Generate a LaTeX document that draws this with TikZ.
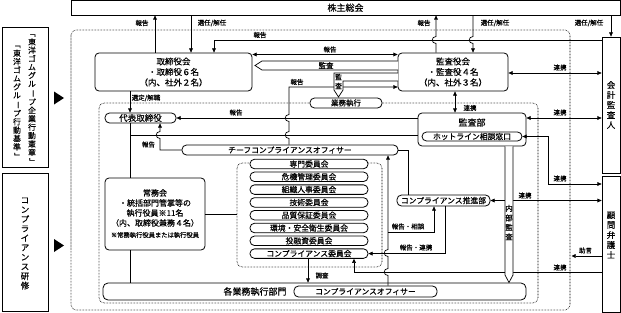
\documentclass[tikz,border=0pt]{standalone}
\usepackage{fontspec}
\usepackage{graphicx}
\setmainfont{Noto Sans CJK JP}[FakeBold=0.35]
\usetikzlibrary{arrows.meta}
\newcommand\myVbar{\rotatebox[origin=c]{-90}{ー}}
\newcommand\myVlb{\rotatebox[origin=c]{-90}{「}}
\newcommand\myVrb{\rotatebox[origin=c]{-90}{」}}
\newcommand\fsz[2]{\fontsize{#1}{#2}\selectfont}
\tikzset{
  ah/.tip={Triangle[length=4.2pt,width=3.8pt]},
  box/.style={draw,line width=0.8pt,rounded corners=4pt,inner sep=0pt,align=center,fill=white},
  pill/.style={draw,line width=0.8pt,rounded corners=4.5pt,inner sep=0pt,fill=white},
  sq/.style={draw,line width=0.8pt,inner sep=0pt,align=center,fill=white},
  ln/.style={line width=0.7pt},
  arr/.style={ln,-ah},
  darr/.style={ln,ah-ah},
  lbl/.style={inner sep=0pt,font=\fsz{6.5}{7}},
  vt/.style={inner sep=0pt,align=center},
  dotbox/.style={line width=0.6pt,dash pattern=on 0.6pt off 0.9pt,rounded corners=5pt},
  hollow/.style={draw,line width=0.7pt,fill=white},
}
\begin{document}
\begin{tikzpicture}[x=1pt,y=-1pt]
\useasboundingbox (0,0) rectangle (621,313);

% dotted frames
\draw[dotbox] (71,30) rectangle (570,310);
\draw[dotbox] (99,103) rectangle (538,303);
\draw[dotbox] (237,163) rectangle (382,267);

% left boxes
\node[sq,minimum width=46pt,minimum height=140pt] (kodo) at (25,97) {};
\node[vt,font=\fsz{7.8}{8.4}] (kodoA) at (32,97.5) {\myVlb\\東\\洋\\ゴ\\ム\\グ\\ル\\\myVbar\\プ\\企\\業\\行\\動\\憲\\章\\\myVrb};
\node[vt,font=\fsz{7.8}{8.4}] (kodoB) at (17,100.5) {\myVlb\\東\\洋\\ゴ\\ム\\グ\\ル\\\myVbar\\プ\\行\\動\\基\\準\\\myVrb};
\node[sq,minimum width=46pt,minimum height=138pt] (kenshu) at (25,242) {};
\node[vt,font=\fsz{8.5}{9.5}] (kenshuT) at (25,243.5) {コ\\ン\\プ\\ラ\\イ\\ア\\ン\\ス\\研\\修};
\fill (54,91.5) -- (64,98) -- (54,104.5) -- cycle;
\fill (54,239) -- (64,245.5) -- (54,252) -- cycle;

% main boxes
\node[sq,minimum width=549pt,minimum height=14.5pt,font=\fsz{9}{10}] (kabu) at (345.5,7.75) {株主総会};
\node[box,minimum width=157pt,minimum height=38pt,font=\fsz{8.5}{10.5}] (tori) at (173.5,72) {取締役会\\・取締役６名\\（内、社外２名）};
\node[box,minimum width=110pt,minimum height=38pt,font=\fsz{8.5}{10.5}] (kansa) at (453,72) {監査役会\\・監査役４名\\（内、社外３名）};
\node[sq,minimum width=18pt,minimum height=136pt] (kaikei) at (611,105) {};
\node[vt,font=\fsz{8.5}{10}] (kaikeiT) at (611,105) {会\\計\\監\\査\\人};
\node[sq,minimum width=18pt,minimum height=136pt] (komon) at (611,244) {};
\node[vt,font=\fsz{8.5}{10}] (komonT) at (611,235) {顧\\問\\弁\\護\\士};

\node[pill,minimum width=71pt,minimum height=10pt,font=\fsz{8.5}{9}] (daihyo) at (140.5,118) {代表取締役};
\node[pill,minimum width=72pt,minimum height=10pt,font=\fsz{7.5}{8}] (gyomu) at (346,103) {業務執行};
\node[box,minimum width=108pt,minimum height=33pt] (kansabu) at (472,129.5) {};
\node[inner sep=0pt,font=\fsz{9}{10}] (kansabuT) at (472,122.5) {監査部};
\node[pill,minimum width=100pt,minimum height=9pt,font=\fsz{7.8}{8}] (hot) at (472,136.5) {ホットライン相談窓口};
\node[pill,minimum width=216pt,minimum height=10pt,font=\fsz{7.8}{8}] (cco) at (290,150) {チーフコンプライアンスオフィサー};
\node[box,minimum width=100pt,minimum height=72pt] (jomu) at (155,214) {};
\node[vt,font=\fsz{8}{10}] (jomuT) at (155,208) {常務会\\・統括部門管掌等の\\執行役員※11名\\（内、取締役兼務４名）};
\node[inner sep=0pt,font=\fsz{6.3}{7}] (jomuN) at (155,235) {※常務執行役員または執行役員};
\foreach \i/\nm in {0/専門委員会,1/危機管理委員会,2/組織人事委員会,3/技術委員会,4/品質保証委員会,5/環境・安全衛生委員会,6/投融資委員会,7/コンプライアンス委員会}
  \node[pill,minimum width=118pt,minimum height=9.5pt,font=\fsz{7.8}{8}] (c\i) at (309,{164+12.8*\i}) {\nm};
\node[pill,minimum width=93pt,minimum height=11pt,font=\fsz{7.8}{8}] (suishin) at (443.5,200.5) {コンプライアンス推進部};
\node[box,rounded corners=5pt,minimum width=423pt,minimum height=17pt] (kaku) at (314.5,291.5) {};
\node[inner sep=0pt,font=\fsz{9}{10}] (kakuT) at (255,291.5) {各業務執行部門};
\node[pill,minimum width=143pt,minimum height=11pt,font=\fsz{7.8}{8}] (co) at (365.5,291.5) {コンプライアンスオフィサー};
\coordinate (jogenEnd) at (571.5,256);
\coordinate (cgrpW) at (237,214);

% connectors top
\draw[arr] (155,0 |- tori.north) -- (155,0 |- kabu.south);
\draw[arr] (191,0 |- kabu.south) -- (191,0 |- tori.north);
\draw[arr] (kaikei.west |- 0,40) -- (214,40) -- (214,0 |- tori.north);
\draw[arr] (436,0 |- kansa.north) -- (436,43.5) .. controls (431,43.5) and (431,36.5) .. (436,36.5) -- (436,0 |- kabu.south);
\draw[arr] (473,0 |- kabu.south) -- (473,36.5) .. controls (468,36.5) and (468,43.5) .. (473,43.5) -- (473,0 |- kansa.north);
\draw[arr] (611,0 |- kabu.south) -- (kaikei.north);
\draw[darr] (tori.east |- 0,54.5) -- (kansa.west |- 0,54.5);
\draw[darr] (kansa.east |- 0,73) -- (kaikei.west |- 0,73);
\draw[darr] (455,0 |- kansa.south) -- (455,0 |- kansabu.north);
\draw[darr] (kansabu.east |- 0,118) -- (kaikei.west |- 0,118);
\draw[darr] (hot.east) -- (548,136.5) -- (548,184) -- (komon.west |- 0,184);
\draw[darr] (suishin.east) -- (komon.west |- suishin.east);
\draw[arr] (komon.west |- 0,256) -- (jogenEnd);
\draw[arr] (komon.west |- 0,272) -- (354,272) -- (354,0 |- c7.south);

% internal connectors
\draw[arr] (130,0 |- tori.south) -- (130,0 |- daihyo.north);
\draw[ln] (130,0 |- daihyo.south) -- (130,0 |- jomu.north);
\draw[ln] (130,0 |- jomu.south) -- (130,0 |- kaku.north);
\draw[ln] (130,135) -- (kansabu.west |- 0,135);
\draw[arr] (kansabu.west |- 0,118) -- (daihyo.east |- 0,118);
\draw[arr] (cco.west) -- (160,150) -- (160,138.5) .. controls (155,138.5) and (155,131.5) .. (160,131.5) -- (160,0 |- daihyo.south);
\draw[arr] (289,0 |- cco.north) -- (289,138.5) .. controls (284,138.5) and (284,131.5) .. (289,131.5) -- (289,121.5) .. controls (284,121.5) and (284,114.5) .. (289,114.5) -- (289,87) -- (kansa.west |- 0,87);
\draw[ln] (cco.east) -- (408,150) -- (408,0 |- suishin.north);
\draw[arr] (388,0 |- co.north) -- (388,275.5) .. controls (383,275.5) and (383,268.5) .. (388,268.5) -- (388,256.5) .. controls (383,256.5) and (383,249.5) .. (388,249.5) -- (388,0 |- cco.south);
\draw[arr] (388,232) -- (434,232) -- (434,0 |- suishin.south);
\draw[arr] (445,0 |- suishin.south) -- (445,0 |- c7.east) -- (c7.east);
\draw[arr] (308,0 |- c7.south) -- (308,0 |- kaku.north);
\draw[ln] (jomu.east) -- (cgrpW);

% hollow arrows
\draw[hollow] (398,61) -- (262,61) -- (255,65.5) -- (262,70) -- (398,70);
\node[inner sep=0pt,font=\fsz{7.5}{8}] (kansaA) at (326,65.5) {監査};
\draw[hollow] (398,73) -- (334,73) -- (334,90) -- (338.5,97) -- (343,90) -- (343,81) -- (398,81);
\node[inner sep=0pt,font=\fsz{7}{8}] (kan1) at (338.5,77) {監};
\node[inner sep=0pt,font=\fsz{7}{8}] (kan2) at (338.5,86) {査};
\draw[hollow] (505,0 |- kansabu.south) -- (505,275) -- (509,282.5) -- (513,275) -- (513,0 |- kansabu.south);
\node[vt,font=\fsz{7.5}{9.5}] (naibu) at (509,222.5) {内\\部\\監\\査};

% labels
\node[lbl] (l1) at (142,23) {報告};
\node[lbl] (l2) at (212,23) {選任/解任};
\node[lbl] (l3) at (424,23) {報告};
\node[lbl] (l4) at (495,23) {選任/解任};
\node[lbl] (l5) at (589,23) {選任/解任};
\node[lbl] (l6) at (260,35) {報告};
\node[lbl] (l7) at (330,49.5) {報告};
\node[lbl] (l8) at (560,67.5) {連携};
\node[lbl] (l9) at (297,82) {報告};
\node[lbl] (l10) at (146,98) {選定/解職};
\node[lbl] (l11) at (470,108) {連携};
\node[lbl] (l12) at (236,112.5) {報告};
\node[lbl] (l13) at (560,112.5) {連携};
\node[lbl] (l14) at (148.5,144.5) {報告};
\node[lbl] (l15) at (560,178.5) {連携};
\node[lbl] (l16) at (525,195.5) {連携};
\node[lbl] (l17) at (408,226.5) {報告・相談};
\node[lbl] (l18) at (416,247.5) {報告・連携};
\node[lbl] (l19) at (585.5,250.5) {助言};
\node[lbl] (l20) at (560,267.5) {連携};
\node[lbl] (l21) at (322,275.5) {調査};
\end{tikzpicture}
\end{document}
